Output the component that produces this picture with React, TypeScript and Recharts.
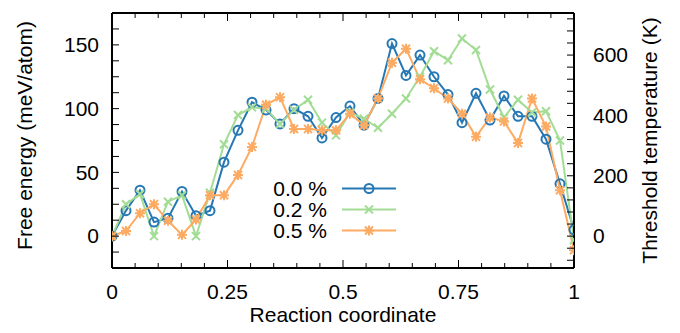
import React from 'react';
import { LineChart, Line, XAxis, YAxis, Legend } from 'recharts';

// free energy along the path, meV/atom, one value per image
const energy00 = [0, 20, 36, 11, 14, 35, 16, 20, 58, 83, 105, 99, 88, 100, 94, 77, 93, 102, 87, 108, 151, 126, 142, 125, 111, 89, 112, 91, 110, 94, 94, 76, 41, 5];
const energy02 = [0, 25, 33, 0, 27, 32, 0, 34, 72, 95, 101, 100, 88, 99, 107, 89, 79, 97, 92, 85, 96, 108, 125, 145, 138, 155, 146, 115, 93, 107, 97, 98, 75, -3];
const energy05 = [0, 4, 18, 25, 12, 1, 13, 32, 32, 48, 70, 103, 109, 84, 84, 83, 83, 96, 87, 108, 136, 147, 123, 116, 108, 96, 78, 93, 90, 73, 108, 86, 36, -11];

const seriesNames = ['0.0 %', '0.2 %', '0.5 %'];
const seriesColors = ['#2678b4', '#a3dc95', '#fdab62'];

const xMajor = [0, 0.25, 0.5, 0.75, 1];
const xTicks = [0, 0.05, 0.1, 0.15, 0.2, 0.25, 0.3, 0.35, 0.4, 0.45, 0.5, 0.55, 0.6, 0.65, 0.7, 0.75, 0.8, 0.85, 0.9, 0.95, 1];
const yMajor = [0, 50, 100, 150];
const yTicks = [-12.5, 0, 12.5, 25, 37.5, 50, 62.5, 75, 87.5, 100, 112.5, 125, 137.5, 150, 162.5];
const tMajor = [0, 200, 400, 600];
const tTicks = [-80, -40, 0, 40, 80, 120, 160, 200, 240, 280, 320, 360, 400, 440, 480, 520, 560, 600, 640, 680, 720];

// images are evenly spaced along the reaction coordinate
const coords = energy00.map((_, i) => i / (energy00.length - 1));
const data = coords.map((c, i) => ({ coord: c, e00: energy00[i], e02: energy02[i], e05: energy05[i] }));

const FONT = '"Liberation Sans", Arial, Helvetica, sans-serif';

const BottomTick = (props: any) => {
  const { x, y, payload } = props;
  const major = xMajor.includes(payload.value);
  return (
    <g>
      <line x1={x} x2={x} y1={y} y2={y - (major ? 8 : 5)} stroke="#000" strokeWidth={1} />
      {major && (
        <text x={x} y={y + 24} dy="0.35em" textAnchor="middle" fontSize={21} fontFamily={FONT} fill="#000">
          {String(payload.value)}
        </text>
      )}
    </g>
  );
};

const TopTick = (props: any) => {
  const { x, y, payload } = props;
  const major = xMajor.includes(payload.value);
  return <line x1={x} x2={x} y1={y} y2={y + (major ? 8 : 5)} stroke="#000" strokeWidth={1} />;
};

const LeftTick = (props: any) => {
  const { x, y, payload } = props;
  const major = yMajor.includes(payload.value);
  return (
    <g>
      <line x1={x} x2={x + 7} y1={y} y2={y} stroke="#000" strokeWidth={1} />
      {major && (
        <text x={x - 13} y={y} dy="0.35em" textAnchor="end" fontSize={21} fontFamily={FONT} fill="#000">
          {String(payload.value)}
        </text>
      )}
    </g>
  );
};

const RightTick = (props: any) => {
  const { x, y, payload } = props;
  const major = tMajor.includes(payload.value);
  return (
    <g>
      <line x1={x} x2={x - 7} y1={y} y2={y} stroke="#000" strokeWidth={1} />
      {major && (
        <text x={x + 19} y={y} dy="0.35em" textAnchor="start" fontSize={21} fontFamily={FONT} fill="#000">
          {String(payload.value)}
        </text>
      )}
    </g>
  );
};

const Circle = ({ cx, cy, color }: any) => (
  <circle cx={cx} cy={cy} r={4.5} fill="none" stroke={color} strokeWidth={2} />
);

const Cross = ({ cx, cy, color }: any) => (
  <path d={`M${cx - 4} ${cy - 4}L${cx + 4} ${cy + 4}M${cx - 4} ${cy + 4}L${cx + 4} ${cy - 4}`} stroke={color} strokeWidth={2} />
);

const Star = ({ cx, cy, color }: any) => (
  <path
    d={`M${cx - 4} ${cy - 4}L${cx + 4} ${cy + 4}M${cx - 4} ${cy + 4}L${cx + 4} ${cy - 4}M${cx - 5} ${cy}L${cx + 5} ${cy}M${cx} ${cy - 5}L${cx} ${cy + 5}`}
    stroke={color}
    strokeWidth={2}
  />
);

const markers = [Circle, Cross, Star];

const LegendBox = () => (
  <div style={{ fontFamily: FONT, fontSize: 21, lineHeight: '21px', color: '#000' }}>
    {seriesNames.map((name, i) => {
      const Marker = markers[i];
      return (
        <div key={name} style={{ display: 'flex', alignItems: 'center', height: 21 }}>
          <span style={{ width: 60, textAlign: 'right', whiteSpace: 'nowrap' }}>{name}</span>
          <svg width={70} height={21} style={{ marginLeft: 15 }}>
            <line x1={0} x2={54} y1={10.5} y2={10.5} stroke={seriesColors[i]} strokeWidth={2} />
            <Marker cx={27} cy={10.5} color={seriesColors[i]} />
          </svg>
        </div>
      );
    })}
  </div>
);

const App: React.FC = () => {
  return (
    <div style={{ width: 664, height: 317 }}>
      <LineChart width={664} height={317} data={data} margin={{ top: 0, right: 0, bottom: 0, left: 0 }}>
        <XAxis
          dataKey="coord"
          type="number"
          domain={[0, 1]}
          allowDataOverflow
          ticks={xTicks}
          interval={0}
          height={57}
          tickSize={0}
          tickMargin={0}
          tick={<BottomTick />}
          axisLine={{ stroke: '#000', strokeWidth: 2 }}
          label={(p: any) => (
            <text
              x={p.viewBox.x + p.viewBox.width / 2}
              y={p.viewBox.y + 47}
              dy="0.35em"
              textAnchor="middle"
              fontSize={21}
              fontFamily={FONT}
              fill="#000"
            >
              Reaction coordinate
            </text>
          )}
        />
        <XAxis
          xAxisId="top"
          dataKey="coord"
          orientation="top"
          type="number"
          domain={[0, 1]}
          allowDataOverflow
          ticks={xTicks}
          interval={0}
          height={5}
          tickSize={0}
          tickMargin={0}
          tick={<TopTick />}
          axisLine={{ stroke: '#000', strokeWidth: 2 }}
        />
        <YAxis
          type="number"
          domain={[-25, 175]}
          allowDataOverflow
          ticks={yTicks}
          interval={0}
          width={104}
          tickSize={0}
          tickMargin={0}
          tick={<LeftTick />}
          axisLine={{ stroke: '#000', strokeWidth: 2 }}
          label={(p: any) => {
            const cx = 17;
            const cy = p.viewBox.y + p.viewBox.height / 2 - 5;
            return (
              <text
                x={cx}
                y={cy}
                dy="0.35em"
                transform={`rotate(-90, ${cx}, ${cy})`}
                textAnchor="middle"
                fontSize={21}
                fontFamily={FONT}
                fill="#000"
              >
                Free energy (meV/atom)
              </text>
            );
          }}
        />
        <YAxis
          yAxisId="right"
          orientation="right"
          type="number"
          domain={[-105.6, 739.4]}
          allowDataOverflow
          ticks={tTicks}
          interval={0}
          width={98}
          tickSize={0}
          tickMargin={0}
          tick={<RightTick />}
          axisLine={{ stroke: '#000', strokeWidth: 2 }}
          label={(p: any) => {
            const cx = p.viewBox.x + 76;
            const cy = p.viewBox.y + p.viewBox.height / 2;
            return (
              <text
                x={cx}
                y={cy}
                dy="0.35em"
                transform={`rotate(-90, ${cx}, ${cy})`}
                textAnchor="middle"
                fontSize={21}
                fontFamily={FONT}
                fill="#000"
              >
                Threshold temperature (K)
              </text>
            );
          }}
        />
        <Legend
          layout="vertical"
          align="center"
          verticalAlign="middle"
          content={<LegendBox />}
          wrapperStyle={{ left: 259, top: 170, width: 150, height: 63 }}
        />
        <Line
          dataKey="e00"
          stroke={seriesColors[0]}
          strokeWidth={2}
          isAnimationActive={false}
          dot={(p: any) => <Circle key={`c-${p.index}`} cx={p.cx} cy={p.cy} color={seriesColors[0]} />}
        />
        <Line
          dataKey="e02"
          stroke={seriesColors[1]}
          strokeWidth={2}
          isAnimationActive={false}
          dot={(p: any) => <Cross key={`x-${p.index}`} cx={p.cx} cy={p.cy} color={seriesColors[1]} />}
        />
        <Line
          dataKey="e05"
          stroke={seriesColors[2]}
          strokeWidth={2}
          isAnimationActive={false}
          dot={(p: any) => <Star key={`s-${p.index}`} cx={p.cx} cy={p.cy} color={seriesColors[2]} />}
        />
      </LineChart>
    </div>
  );
};

export default App;
